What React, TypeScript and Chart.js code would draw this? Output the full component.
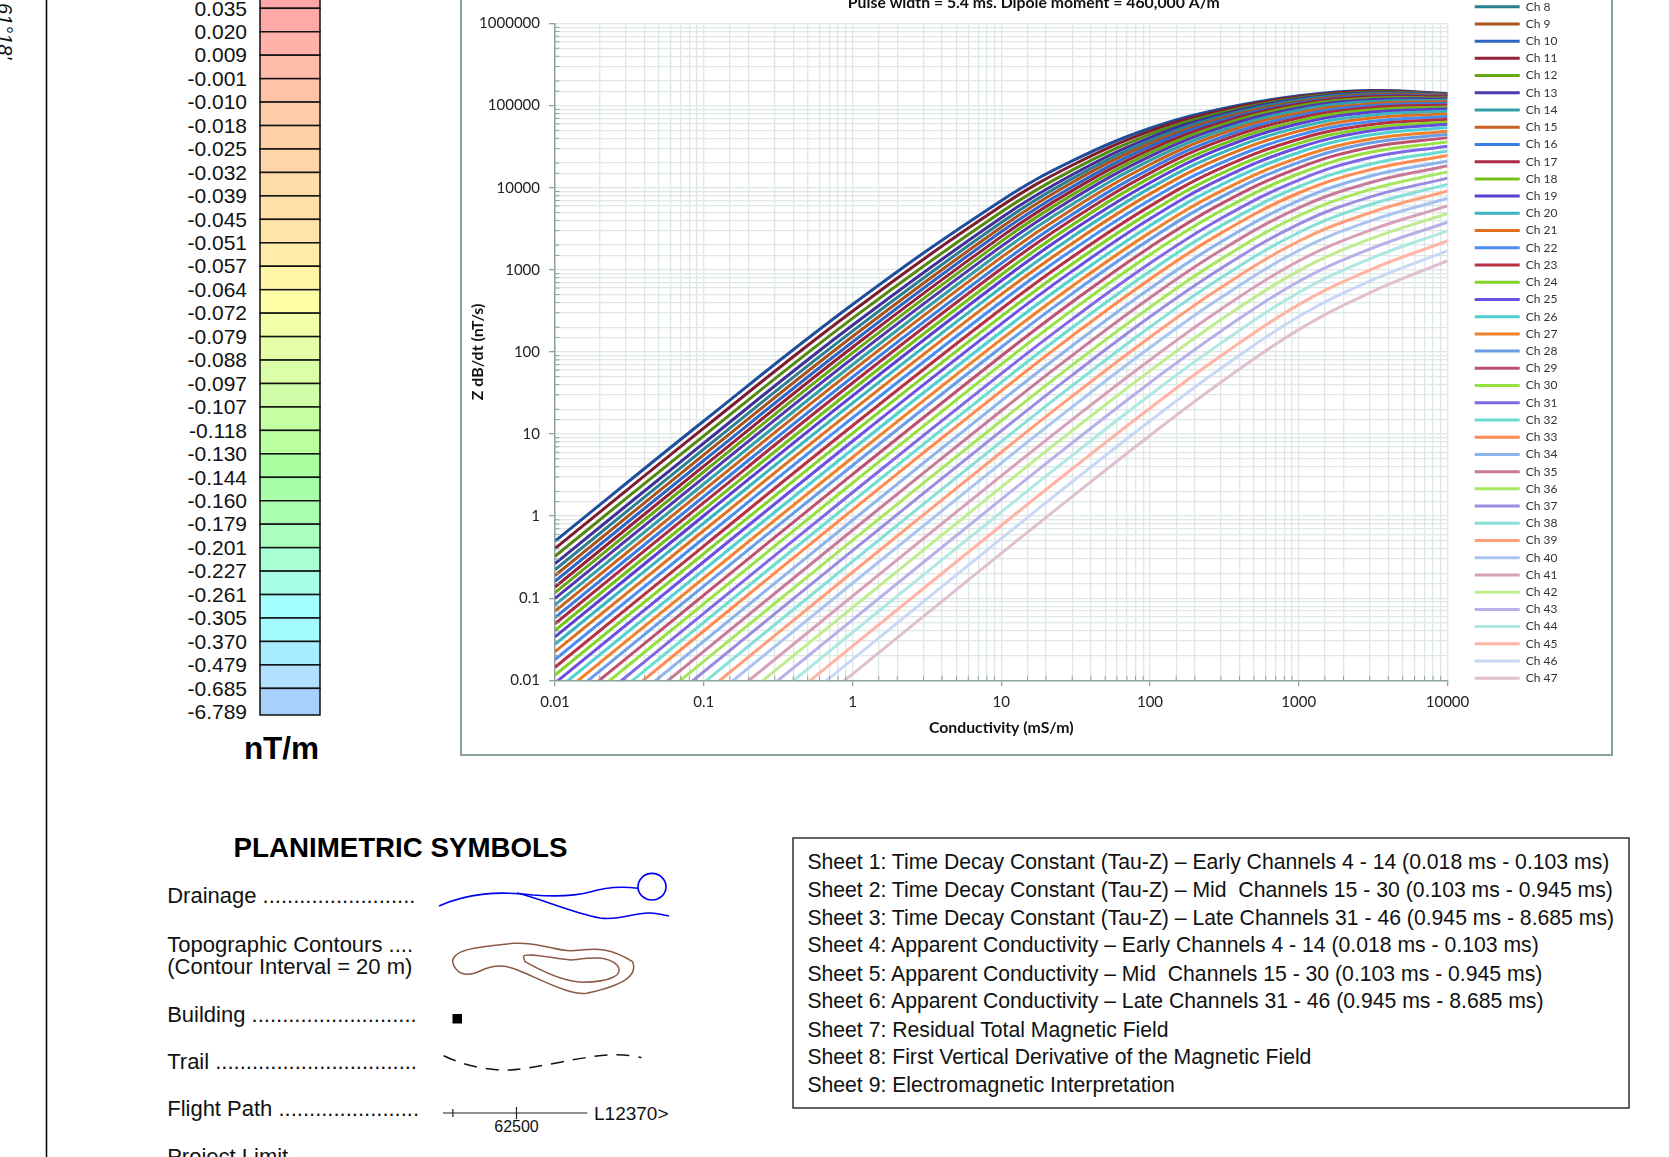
import React, { useEffect, useRef } from "react";
import { Chart, registerables } from "chart.js";
Chart.register(...registerables);

const conductivity = [0.01, 0.1, 1, 10, 30, 100, 300, 1000, 3000, 10000];
const ch4 = [0.495, 14.4, 378, 6960, 21200, 53000, 91000, 132000, 153000, 141000];
const ch5 = [0.403, 11.8, 313, 5980, 18800, 49000, 87000, 128000, 150000, 139000];
const ch6 = [0.324, 9.5, 256, 5060, 16400, 44600, 82000, 124000, 146000, 138000];
const ch7 = [0.264, 7.75, 211, 4320, 14400, 40800, 77800, 121000, 143000, 137000];
const ch8 = [0.222, 6.54, 179, 3770, 12900, 37600, 73800, 117000, 140000, 135000];
const ch9 = [0.189, 5.58, 154, 3310, 11600, 34700, 69900, 112000, 136000, 133000];
const ch10 = [0.161, 4.76, 132, 2910, 10300, 31900, 65900, 108000, 132000, 130000];
const ch11 = [0.137, 4.06, 114, 2540, 9220, 29200, 62100, 104000, 128000, 128000];
const ch12 = [0.117, 3.47, 97.3, 2220, 8180, 26600, 58000, 99000, 123000, 124000];
const ch13 = [0.0995, 2.95, 83.4, 1930, 7250, 24100, 53900, 94000, 118000, 121000];
const ch14 = [0.0828, 2.46, 69.8, 1650, 6280, 21500, 49400, 88000, 112000, 116000];
const ch15 = [0.0697, 2.07, 59.1, 1420, 5480, 19200, 45300, 81700, 105000, 112000];
const ch16 = [0.058, 1.73, 49.4, 1200, 4730, 17000, 41100, 76100, 99800, 107000];
const ch17 = [0.0488, 1.46, 41.8, 1030, 4100, 15100, 37400, 70900, 94600, 102000];
const ch18 = [0.0406, 1.21, 34.9, 871, 3520, 13200, 33500, 65300, 88500, 96600];
const ch19 = [0.0338, 1.01, 29.2, 736, 3010, 11500, 30100, 60100, 82900, 91400];
const ch20 = [0.0275, 0.822, 23.8, 608, 2520, 9880, 26400, 54400, 76600, 85500];
const ch21 = [0.0223, 0.668, 19.4, 502, 2100, 8420, 23100, 48900, 70300, 79400];
const ch22 = [0.0179, 0.538, 15.7, 409, 1740, 7090, 20000, 43700, 64200, 73600];
const ch23 = [0.0144, 0.432, 12.6, 333, 1430, 5970, 17300, 39000, 58700, 68400];
const ch24 = [0.0116, 0.348, 10.2, 271, 1180, 5010, 14900, 34700, 53500, 63400];
const ch25 = [0.00926, 0.278, 8.17, 220, 964, 4190, 12800, 30900, 49100, 59400];
const ch26 = [0.00735, 0.221, 6.5, 176, 780, 3450, 10800, 26900, 43900, 54100];
const ch27 = [0.00585, 0.176, 5.18, 142, 632, 2840, 9090, 23300, 39000, 48900];
const ch28 = [0.00465, 0.14, 4.14, 114, 513, 2350, 7680, 20400, 35000, 44900];
const ch29 = [0.00362, 0.109, 3.22, 89.3, 406, 1890, 6360, 17500, 31000, 40800];
const ch30 = [0.00284, 0.0854, 2.53, 70.6, 323, 1530, 5240, 14800, 27000, 36200];
const ch31 = [0.00217, 0.0653, 1.94, 54.4, 251, 1200, 4220, 12400, 23200, 32100];
const ch32 = [0.00169, 0.0508, 1.51, 42.6, 198, 960, 3430, 10300, 19300, 28100];
const ch33 = [0.00132, 0.0399, 1.19, 33.6, 157, 770, 2800, 8630, 16500, 24700];
const ch34 = [0.000991, 0.0299, 0.89, 25.3, 119, 592, 2190, 6990, 13800, 21200];
const ch35 = [0.000747, 0.0225, 0.672, 19.2, 90.8, 457, 1730, 5690, 11500, 18500];
const ch36 = [0.000563, 0.017, 0.507, 14.5, 69.1, 351, 1350, 4560, 9500, 15600];
const ch37 = [0.000422, 0.0127, 0.38, 10.9, 52.2, 268, 1040, 3610, 7700, 13100];
const ch38 = [0.00031, 0.00935, 0.28, 8.09, 38.8, 201, 799, 2850, 6200, 11000];
const ch39 = [0.000229, 0.0069, 0.207, 6, 28.9, 151, 609, 2230, 4950, 9160];
const ch40 = [0.000169, 0.00508, 0.152, 4.43, 21.4, 113, 460, 1720, 3920, 7450];
const ch41 = [0.000117, 0.00353, 0.106, 3.09, 15, 79.9, 332, 1280, 3020, 6010];
const ch42 = [0.000085, 0.00256, 0.0769, 2.25, 11, 58.8, 247, 973, 2360, 4850];
const ch43 = [0.0000602, 0.00182, 0.0545, 1.6, 7.81, 42.2, 179, 721, 1790, 3800];
const ch44 = [0.0000421, 0.00127, 0.0382, 1.12, 5.49, 29.9, 128, 529, 1360, 2990];
const ch45 = [0.0000288, 0.000867, 0.0261, 0.768, 3.77, 20.6, 89.6, 377, 995, 2250];
const ch46 = [0.0000199, 0.0006, 0.018, 0.533, 2.62, 14.4, 63.2, 270, 730, 1700];
const ch47 = [0.0000131, 0.000395, 0.0119, 0.351, 1.73, 9.61, 42.7, 187, 525, 1290];

const series = [ch4,ch5,ch6,ch7,ch8,ch9,ch10,ch11,ch12,ch13,ch14,ch15,ch16,ch17,ch18,ch19,ch20,ch21,ch22,ch23,ch24,ch25,ch26,ch27,ch28,ch29,ch30,ch31,ch32,ch33,ch34,ch35,ch36,ch37,ch38,ch39,ch40,ch41,ch42,ch43,ch44,ch45,ch46,ch47];
const channels = ["Ch 4","Ch 5","Ch 6","Ch 7","Ch 8","Ch 9","Ch 10","Ch 11","Ch 12","Ch 13","Ch 14","Ch 15","Ch 16","Ch 17","Ch 18","Ch 19","Ch 20","Ch 21","Ch 22","Ch 23","Ch 24","Ch 25","Ch 26","Ch 27","Ch 28","Ch 29","Ch 30","Ch 31","Ch 32","Ch 33","Ch 34","Ch 35","Ch 36","Ch 37","Ch 38","Ch 39","Ch 40","Ch 41","Ch 42","Ch 43","Ch 44","Ch 45","Ch 46","Ch 47"];
const colors = ["#1f4e9c","#7c1c2e","#55880f","#40309a","#2a7f92","#a8521e","#2f65c4","#952238","#66a812","#4f37ac","#339fa8","#c8621e","#3a7ce0","#ab2b42","#74c015","#5a3fd0","#38b6c0","#e0701e","#4a8cf0","#b83044","#84d428","#6a50e0","#4fd0d0","#f0802c","#6a9ce8","#c05070","#96e040","#7f68e4","#6adcd0","#ff8a50","#8fb4ec","#c87a9a","#a8e660","#9a8ce0","#86e0d8","#ff9e7a","#a9c4ee","#d8a0b8","#c0ec90","#b8b0e8","#aee8e0","#ffb4a4","#c8d8f4","#e0c0d0"];

const colorbarLabels=["0.035","0.020","0.009","-0.001","-0.010","-0.018","-0.025","-0.032","-0.039","-0.045","-0.051","-0.057","-0.064","-0.072","-0.079","-0.088","-0.097","-0.107","-0.118","-0.130","-0.144","-0.160","-0.179","-0.201","-0.227","-0.261","-0.305","-0.370","-0.479","-0.685","-6.789"];
const colorbarColors=["#ffa6a6","#ffa8a8","#ffb2a8","#ffbca8","#ffc4a8","#ffcca8","#ffd0a8","#ffd6a8","#ffdca8","#ffe0a8","#ffe4a8","#ffeca8","#fff6a8","#ffffa8","#f0ffa8","#e4ffa8","#daffa8","#ceffa8","#c4ffa0","#baffa0","#aaffa0","#a8ffa8","#a8ffb0","#a8ffbe","#a8ffd4","#a8ffe6","#a4ffff","#a4fbff","#a8eeff","#b4e0ff","#a8d0ff"];
const sheets=["Sheet 1: Time Decay Constant (Tau-Z) – Early Channels 4 - 14 (0.018 ms - 0.103 ms)","Sheet 2: Time Decay Constant (Tau-Z) – Mid  Channels 15 - 30 (0.103 ms - 0.945 ms)","Sheet 3: Time Decay Constant (Tau-Z) – Late Channels 31 - 46 (0.945 ms - 8.685 ms)","Sheet 4: Apparent Conductivity – Early Channels 4 - 14 (0.018 ms - 0.103 ms)","Sheet 5: Apparent Conductivity – Mid  Channels 15 - 30 (0.103 ms - 0.945 ms)","Sheet 6: Apparent Conductivity – Late Channels 31 - 46 (0.945 ms - 8.685 ms)","Sheet 7: Residual Total Magnetic Field","Sheet 8: First Vertical Derivative of the Magnetic Field","Sheet 9: Electromagnetic Interpretation"];
const sheetY=[861.8,889.5,917.2,944.8,973.5,1000.5,1029.5,1056.8,1084.5];
const ar="'Liberation Sans',Arial,sans-serif";

function Overlay(){
  const T={fontFamily:ar,fontSize:22,fill:"#111",dominantBaseline:"central" as const};
  return <svg width={1669} height={1157} style={{position:"absolute",left:0,top:0}}>
    <line x1={46.5} y1={0} x2={46.5} y2={1157} stroke="#000" strokeWidth={1.5}/>
    <text transform="translate(-2,3) rotate(90)" x={0} y={0} style={{fontFamily:ar,fontSize:20,fontStyle:"italic"}} fill="#111">61°18'</text>
    {colorbarLabels.map((l,i)=>{const y=8.3+i*23.45;const top=i===0?-16:8.3+(i-1)*23.45;const bot=i===30?715:y;return <g key={l}>
      <rect x={260} y={top} width={60} height={bot-top} fill={colorbarColors[i]} stroke="#111" strokeWidth={1.5}/>
      <text x={247} y={y-0.3} textAnchor="end" style={{...T,fontSize:21}}>{l}</text></g>;})}
    <text x={281.5} y={748} textAnchor="middle" style={{fontFamily:ar,fontWeight:700,fontSize:31.5,dominantBaseline:"central"}}>nT/m</text>
    <text x={400.5} y={847} textAnchor="middle" style={{fontFamily:ar,fontWeight:700,fontSize:27.7,dominantBaseline:"central"}}>PLANIMETRIC SYMBOLS</text>
    <text x={167.2} y={895.4} style={T}>Drainage .........................</text>
    <text x={167.2} y={944} style={T}>Topographic Contours ....</text>
    <text x={167.2} y={966.7} style={T}>(Contour Interval = 20 m)</text>
    <text x={167.2} y={1014} style={T}>Building ...........................</text>
    <text x={167.2} y={1061.2} style={T}>Trail .................................</text>
    <text x={167.2} y={1108} style={T}>Flight Path .......................</text>
    <text x={167.2} y={1156} style={T}>Project Limit</text>
    <g fill="none" stroke="#0000ee" strokeWidth={1.6}>
      <path d="M439 906 C468 893 498 891 533 895 C560 897 575 896 590 892 C606 887 620 886 638 888.3"/>
      <ellipse cx={652} cy={886.7} rx={14} ry={13.3}/>
      <path d="M517 893 C545 900 570 912 600 918 C620 921 635 912 650 913 C658 913.5 664 915 669 916"/>
    </g>
    <g fill="none" stroke="#8a5a44" strokeWidth={1.5}>
      <path d="M452.5 961.7 C453 951 470 947 513.8 943.3 C540 942 555 951 571 950.7 C590 950 605 944 632.6 961.7 C638 975 625 985 586.6 993.3 C570 995 548 983 517.6 970 C505 965 495 964 480 971 C465 978 455 973 452.5 961.7Z"/>
      <path d="M523.4 956.7 C525 952 550 958 571 960 C590 958 606 955 617 965 C625 975 610 982 582.8 982.3 C565 982 545 973 525 961.7Z"/>
    </g>
    <rect x={452.5} y={1014} width={9.5} height={9.5} fill="#000"/>
    <path d="M443.7 1055.7 C465 1066 490 1071 510 1070 C540 1068 590 1054 617 1054.7 C625 1055 635 1056 641.4 1057.7" fill="none" stroke="#111" strokeWidth={1.5} strokeDasharray="13 9"/>
    <line x1={443} y1={1113} x2={587.4} y2={1113} stroke="#222" strokeWidth={1.2}/>
    <line x1={452.9} y1={1109} x2={452.9} y2={1117} stroke="#222" strokeWidth={1.2}/>
    <line x1={516.5} y1={1107} x2={516.5} y2={1119} stroke="#222" strokeWidth={1.2}/>
    <text x={516.5} y={1126} textAnchor="middle" style={{...T,fontSize:16}}>62500</text>
    <text x={594} y={1113} style={{...T,fontSize:19}}>L12370&gt;</text>
    <rect x={793} y={838} width={836} height={270} fill="none" stroke="#111" strokeWidth={1.3}/>
    {sheets.map((s,i)=><text key={i} x={807.4} y={sheetY[i]} style={{...T,fontSize:21.2,whiteSpace:"pre"}}>{s}</text>)}
  </svg>;
}

const minorTicks={id:"minorTicks",afterDatasetsDraw(c:any){const ctx=c.ctx,{left,bottom}=c.chartArea;ctx.save();ctx.strokeStyle="#8ea2a2";ctx.lineWidth=1;
  const mj=(v:number)=>Math.abs(Math.log10(v)-Math.round(Math.log10(v)))<1e-6;
  c.scales.y.ticks.forEach((t:any)=>{if(!mj(t.value)){const p=c.scales.y.getPixelForValue(t.value);ctx.beginPath();ctx.moveTo(left,p);ctx.lineTo(left+4.5,p);ctx.stroke();}});
  c.scales.x.ticks.forEach((t:any)=>{if(!mj(t.value)){const p=c.scales.x.getPixelForValue(t.value);ctx.beginPath();ctx.moveTo(p,bottom);ctx.lineTo(p,bottom-4.5);ctx.stroke();}});
  ctx.restore();},
  afterLayout(c:any){ if(c.legend){c.legend.left=1007.5;c.legend.right=1149;c.legend.width=141.5;} if(c.titleBlock){c.titleBlock.left=0;c.titleBlock.right=1149;c.titleBlock.width=1149;} }};

export default function App(){
  const ref=useRef<HTMLCanvasElement>(null);
  useEffect(()=>{
    const mj=(v:number)=>Math.abs(Math.log10(v)-Math.round(Math.log10(v)))<1e-6;
    const lbl=(v:any)=>mj(Number(v))?String(Number(v)):"";
    const tk=(ctx:any)=>mj(ctx.tick.value)?"#8ea2a2":"rgba(0,0,0,0)";
    const font={family:"Lato",size:15};
    const chart=new Chart(ref.current!,{type:"line",
      data:{labels:conductivity,datasets:channels.map((c,i)=>({label:c,data:conductivity.map((x,j)=>({x,y:series[i][j]})),borderColor:colors[i],backgroundColor:colors[i],borderWidth:3,pointRadius:0,tension:0.4,order:-i}))} as any,
      options:{animation:false,responsive:false,parsing:false as any,
        layout:{padding:{top:26.6,right:65.6,bottom:0,left:0}},
        plugins:{
          title:{display:true,text:"Pulse width = 5.4 ms. Dipole moment = 460,000 A/m²",color:"#111",font:{family:"Lato",size:15.8,weight:"bold"},padding:{top:67,bottom:11}},
          legend:{position:"right",align:"start",labels:{boxWidth:45,boxHeight:3,padding:5.22,color:"#333",font:{family:"Lato",size:12},
            sort:(a:any,b:any)=>a.datasetIndex-b.datasetIndex,
            generateLabels:(c:any)=>Chart.defaults.plugins.legend.labels.generateLabels(c).map((l:any)=>({...l,lineWidth:0}))}},
          tooltip:{enabled:false}},
        scales:{
          x:{type:"logarithmic",min:0.01,max:10000,afterFit:(s:any)=>{s.height=73.7;},
            grid:{color:"#dfe7e7",lineWidth:1.3,tickLength:6,tickColor:tk},border:{color:"#8ea2a2",width:1.5},
            ticks:{autoSkip:false,maxRotation:0,padding:7,color:"#222",font,callback:lbl},
            title:{display:true,text:"Conductivity (mS/m)",color:"#111",font:{family:"Lato",size:15.8,weight:"bold"},padding:{top:0,bottom:17}}},
          y:{type:"logarithmic",min:0.01,max:1000000,afterFit:(s:any)=>{s.width=93;},
            grid:{color:"#dfe7e7",lineWidth:1.3,tickLength:6,tickColor:tk},border:{color:"#8ea2a2",width:1.5},
            ticks:{autoSkip:false,padding:9,color:"#222",font,callback:lbl},
            title:{display:true,text:"Z dB/dt (nT/s)",color:"#111",font:{family:"Lato",size:16,weight:"bold"},padding:{top:6,bottom:0}}}
        }},plugins:[minorTicks]});
    return ()=>chart.destroy();
  },[]);
  return <div style={{position:"absolute",left:0,top:0,width:1669,height:1157,overflow:"hidden",background:"#fff"}}>
    <Overlay/>
    <div style={{position:"absolute",left:460,top:-102,width:1149,height:854,border:"2px solid #8ba0a0"}}>
      <canvas ref={ref} width={1149} height={854} style={{position:"absolute",left:0,top:0,display:"block"}}/>
    </div>
  </div>;
}
